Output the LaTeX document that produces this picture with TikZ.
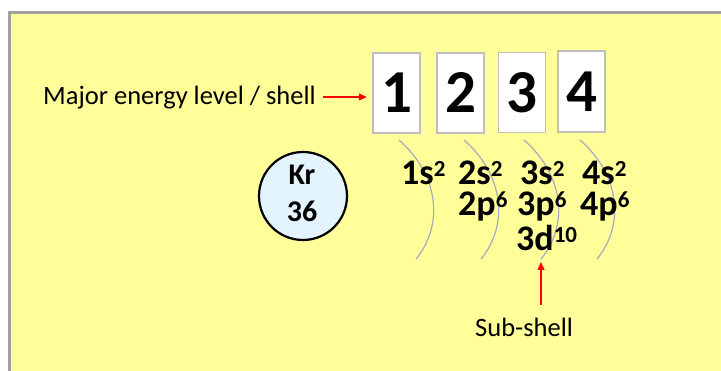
\documentclass[tikz,border=0pt]{standalone}
\usepackage{fontspec}
\setmainfont{Carlito}
\usetikzlibrary{arrows.meta}
\definecolor{slideyellow}{RGB}{255,254,153}
\definecolor{framegray}{RGB}{160,160,160}
\definecolor{boxgray}{RGB}{191,191,191}
\definecolor{nucleusblue}{RGB}{228,244,255}
\definecolor{arcgray}{RGB}{166,172,190}
\newcommand{\ec}[2]{#1\raisebox{8.5pt}{\fontsize{23}{23}\selectfont #2}}
\tikzset{
  shellbox/.style={draw=boxgray, line width=1.5pt, fill=white, minimum width=47pt, minimum height=80pt, inner sep=0pt, font=\fontsize{61}{61}\selectfont\bfseries},
  conf/.style={anchor=base west, inner sep=0pt, text height=21pt, text depth=0pt, font=\fontsize{36}{36}\selectfont\bfseries},
  lbl/.style={anchor=base west, inner sep=0pt, font=\fontsize{26.5}{26.5}\selectfont},
  redarrow/.style={draw=red, line width=1.3pt, -{Triangle[length=8pt,width=7pt]}},
  shellarc/.style={draw=arcgray, line width=1.2pt}
}
\begin{document}
\begin{tikzpicture}[x=1pt,y=-1pt]
\useasboundingbox (0,0) rectangle (721,371);
\clip (0,0) rectangle (721,371);
\fill[white] (0,0) rectangle (721,371);
\draw[framegray, line width=3pt, fill=slideyellow] (9.5,12.5) rectangle (740,390);

% shell boxes
\node[shellbox] (b1) at (396.5,93) {1};
\node[shellbox] (b2) at (460.5,93) {2};
\node[shellbox] (b3) at (522,92.5) {3};
\node[shellbox, minimum height=81pt] (b4) at (581.5,91.5) {4};

% label and arrow
\node[lbl] (major) at (43,105) {Major energy level / shell};
\coordinate (m1) at (323,97);
\draw[redarrow, shorten >=5.5pt] (m1) -- (b1.west |- m1);

% nucleus
\node[draw=black, line width=2.2pt, fill=nucleusblue, circle, minimum size=88pt, inner sep=0pt] (kr) at (303,196) {};
\node[anchor=base, inner sep=0pt, font=\fontsize{30}{30}\selectfont\bfseries] (krs) at (302,185) {Kr};
\node[anchor=base, inner sep=0pt, font=\fontsize{30}{30}\selectfont\bfseries] (krn) at (302,222) {36};

% arcs
\foreach \x in {399,464,524,580}{
  \draw[shellarc] (\x,140) .. controls (\x+40,175) and (\x+45,225) .. (\x+17,259);
}

% configurations
\node[conf] (c1s) at (401,185) {\ec{1s}{2}};
\node[conf] (c2s) at (458,185) {\ec{2s}{2}};
\node[conf] (c2p) at (458,216) {\ec{2p}{6}};
\node[conf] (c3s) at (520,185) {\ec{3s}{2}};
\node[conf] (c3p) at (517,216) {\ec{3p}{6}};
\node[conf] (c3d) at (516,251) {\ec{3d}{10}};
\node[conf] (c4s) at (582,185) {\ec{4s}{2}};
\node[conf] (c4p) at (580,216) {\ec{4p}{6}};

% sub-shell label
\node[lbl] (sub) at (475,337) {Sub-shell};
\coordinate (s1) at (541,305);
\coordinate (s2) at (541,262);
\draw[redarrow] (s1) -- (s2);
\end{tikzpicture}
\end{document}
